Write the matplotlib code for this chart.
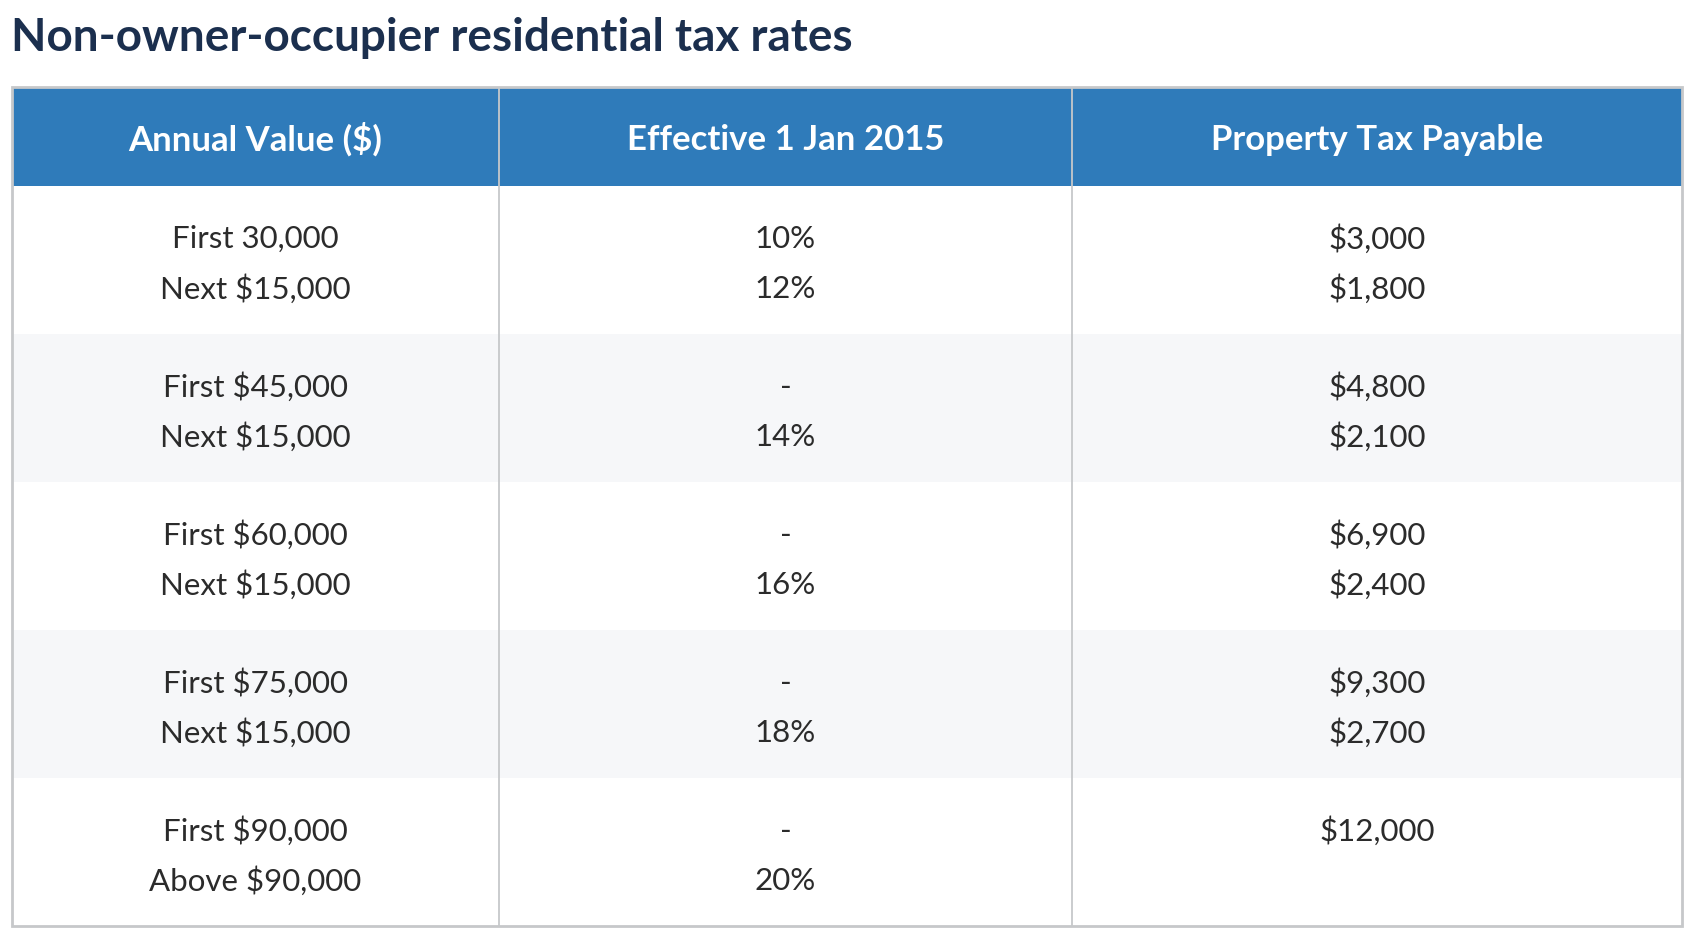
import matplotlib.pyplot as plt
from matplotlib.patches import Rectangle

plt.rcParams['font.family'] = ['Lato', 'DejaVu Sans']

title = 'Non-owner-occupier residential tax rates'
headers = ['Annual Value ($)', 'Effective 1 Jan 2015', 'Property Tax Payable']

# each cell holds two lines of text
annual_value = [
    ['First 30,000', 'Next $15,000'],
    ['First $45,000', 'Next $15,000'],
    ['First $60,000', 'Next $15,000'],
    ['First $75,000', 'Next $15,000'],
    ['First $90,000', 'Above $90,000'],
]
tax_rate = [
    ['10%', '12%'],
    ['-', '14%'],
    ['-', '16%'],
    ['-', '18%'],
    ['-', '20%'],
]
tax_payable = [
    ['$3,000', '$1,800'],
    ['$4,800', '$2,100'],
    ['$6,900', '$2,400'],
    ['$9,300', '$2,700'],
    ['$12,000', ''],
]

W, H = 1696, 938
fig = plt.figure(figsize=(W / 100, H / 100), dpi=100)
ax = fig.add_axes([0, 0, 1, 1])
ax.set_xlim(0, W)
ax.set_ylim(H, 0)
ax.axis('off')

# table geometry in pixels
left, right = 12, 1682
col_edges = [left, 499, 1072, right]
head_top, head_bot = 87, 186
row_h = 148
n_rows = len(annual_value)
bottom = head_bot + n_rows * row_h

blue = '#2f7bba'
border = '#c6c8ca'
shade = '#f6f7f9'
text_col = '#2b2b2b'

ax.text(11, 51, title, fontsize=33, fontweight='bold', color='#1b2f4e', va='baseline', ha='left')

# header
ax.add_patch(Rectangle((left, head_top), right - left, head_bot - head_top, facecolor=blue, edgecolor='none'))
for i, h in enumerate(headers):
    xc = (col_edges[i] + col_edges[i + 1]) / 2
    ax.text(xc, (head_top + head_bot) / 2 + 3, h, fontsize=25, fontweight='bold', color='white',
            ha='center', va='center')

# body rows
columns = [annual_value, tax_rate, tax_payable]
for r in range(n_rows):
    y0 = head_bot + r * row_h
    if r % 2 == 1:
        ax.add_patch(Rectangle((left, y0), right - left, row_h, facecolor=shade, edgecolor='none'))
    yc = y0 + row_h / 2 + 4
    for c, col in enumerate(columns):
        xc = (col_edges[c] + col_edges[c + 1]) / 2
        for k, line in enumerate(col[r]):
            ax.text(xc, yc - 25 + 50 * k, line, fontsize=22.5, color=text_col, ha='center', va='center')

# borders
for x in col_edges[1:-1]:
    ax.plot([x, x], [head_top, bottom], color=border, lw=1.3, solid_capstyle='butt')
ax.add_patch(Rectangle((left, head_top), right - left, bottom - head_top, facecolor='none',
                       edgecolor=border, lw=2))

fig.savefig('out.png', dpi=100)
